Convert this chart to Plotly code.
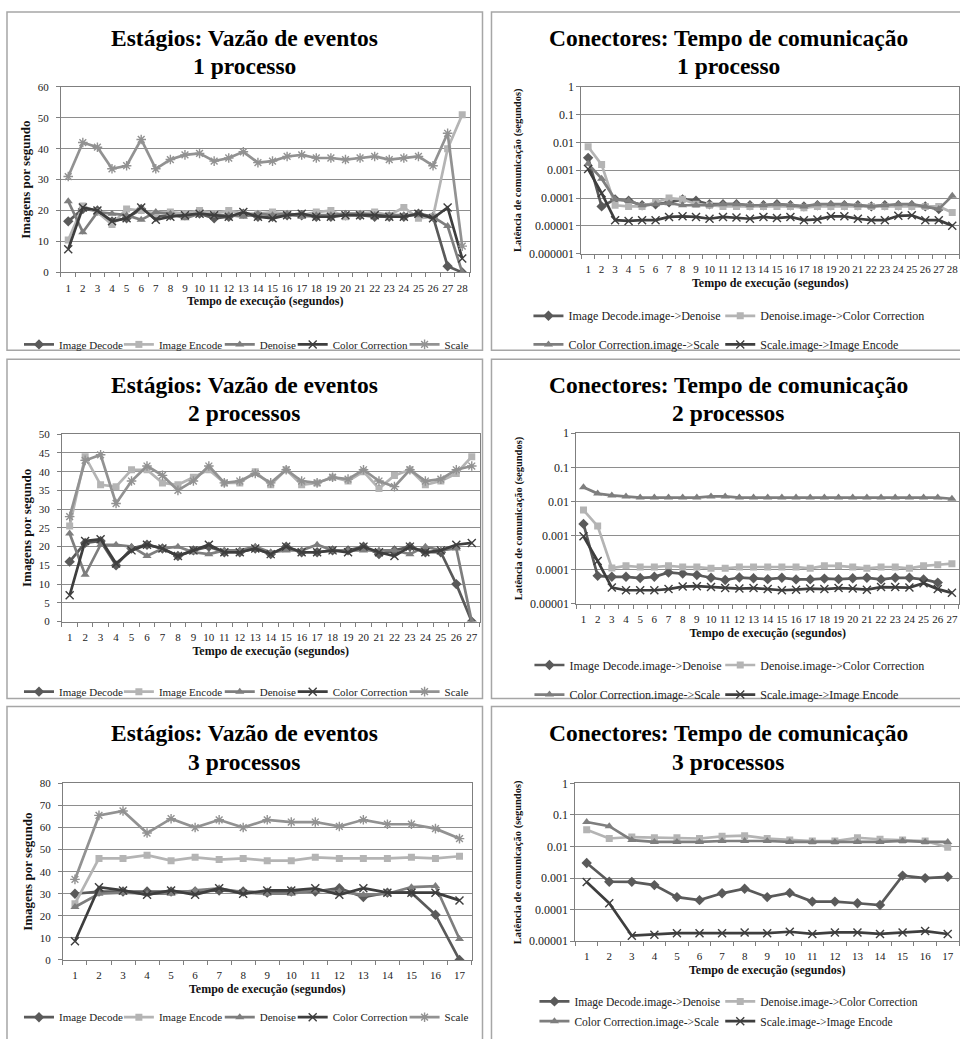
import plotly.graph_objects as go

W, H = 960, 1039
SERIF = "Liberation Serif"

# ---------------- data ----------------
stage_names = ["Image Decode", "Image Encode", "Denoise", "Color Correction", "Scale"]
conn_names = ["Image Decode.image->Denoise", "Denoise.image->Color Correction",
              "Color Correction.image->Scale", "Scale.image->Image Encode"]

x28 = list(range(1, 29))
x27 = list(range(1, 28))
x17 = list(range(1, 18))

# Stages, 1 processo
p1_decode = [16.5, 20.5, 20, 16.5, 17.5, 20.5, 18, 18.5, 18.5, 19, 17.5, 18, 19, 18, 18, 18.5, 18.5, 18, 18, 18.5,
             18.5, 18, 18, 18, 19, 18, 2, 0]
p1_encode = [10.5, 21.5, 19.5, 15.5, 20.5, 20, 19, 19.5, 19, 20, 19, 20, 19, 19, 19.5, 19, 18.5, 19.5, 20, 18,
             19, 19.5, 18.5, 21, 17.5, 18, 40, 51]
p1_denoise = [23, 13, 19.5, 19, 18.5, 17, 19.5, 19, 17.5, 19, 18.5, 18.5, 18, 19, 18.5, 19, 18, 18.5, 18.5, 19,
              19, 18.5, 18.5, 18.5, 18.5, 18, 15, 0]
p1_color = [7.5, 21, 20, 16.5, 17.5, 21, 17, 18, 18.5, 19, 18.5, 18, 19.5, 18, 17.5, 18.5, 19, 18, 18, 18.5,
            18.5, 18.5, 18, 18, 19, 17.5, 21, 4.5]
p1_scale = [31, 42, 40.5, 33.5, 34.5, 43, 33.5, 36.5, 38, 38.5, 36, 37, 39, 35.5, 36, 37.5, 38, 37, 37, 36.5,
            37, 37.5, 36.5, 37, 37.5, 34.5, 45, 8.5]

# Stages, 2 processos
p3_decode = [16, 21, 21.5, 15, 19.5, 20.5, 19.5, 17.5, 19, 20, 18.5, 18.5, 19.5, 18, 20, 18.5, 18.5, 19, 19, 20,
             18, 19, 20, 18.5, 18.5, 10, 0]
p3_encode = [25.5, 44, 36.5, 36, 40.5, 40.5, 37, 36.5, 38.5, 40.5, 37, 37, 40, 36.5, 40.5, 36.5, 37, 38.5, 37.5, 40,
             35.5, 39, 40.5, 36.5, 37.5, 39.5, 44]
p3_denoise = [23.5, 12.5, 20.5, 20.5, 20, 17.5, 19.5, 20, 18.5, 18, 19, 19, 20, 18.5, 19, 19, 20.5, 19, 19, 19,
              19, 19, 18, 20, 19, 19.5, 0]
p3_color = [7, 21.5, 22, 15.5, 19, 20.5, 19.5, 17.5, 19, 20.5, 18.5, 18.5, 19.5, 18, 20, 18.5, 18.5, 19, 18.5, 20,
            18.5, 17.5, 20, 18.5, 19, 20.5, 21]
p3_scale = [28, 43, 44.5, 31.5, 37.5, 41.5, 39, 35, 37.5, 41.5, 37, 37.5, 39.5, 37, 40.5, 37.5, 37, 38.5, 38, 40.5,
            37.5, 36, 40.5, 37.5, 38, 40.5, 41.5]

# Stages, 3 processos
p5_decode = [30, 31, 31, 31, 31, 31, 31.5, 31, 30.5, 31, 31, 32.5, 28.5, 30.5, 30.5, 20.5, 0]
p5_encode = [25.5, 46, 46, 47.5, 45, 46.5, 45.5, 46, 45, 45, 46.5, 46, 46, 46, 46.5, 46, 47]
p5_denoise = [24, 30, 30.5, 30, 30, 31.5, 32.5, 30.5, 30, 30, 31.5, 31, 29.5, 30, 33, 33.5, 9.5]
p5_color = [8.5, 33, 31.5, 29.5, 31.5, 29.5, 32.5, 30, 31.5, 31.5, 32.5, 29.5, 32.5, 30.5, 30.5, 30.5, 27]
p5_scale = [36.5, 65.5, 67.5, 57.5, 64, 60, 63.5, 60, 63.5, 62.5, 62.5, 60.5, 63.5, 61.5, 61.5, 59.5, 55]

# Connectors, 1 processo
p2_decode = [0.0028, 5e-5, 9e-5, 8e-5, 5.5e-5, 6e-5, 7e-5, 9e-5, 8e-5, 6e-5, 6e-5, 6e-5, 5.5e-5, 5.5e-5, 6e-5,
             5.5e-5, 5e-5, 5.5e-5, 5.5e-5, 5.5e-5, 5.5e-5, 5e-5, 5.5e-5, 5.5e-5, 5.5e-5, 5e-5, 4e-5, None]
p2_denoise = [0.007, 0.0016, 5.5e-5, 5e-5, 5e-5, 7e-5, 1e-4, 9e-5, 6e-5, 5.5e-5, 5e-5, 5e-5, 5e-5, 5e-5, 5e-5,
              5e-5, 4.5e-5, 5e-5, 5e-5, 5e-5, 5e-5, 5e-5, 5e-5, 5e-5, 5e-5, 5e-5, 5e-5, 3e-5]
p2_color = [0.0017, 0.0005, 9e-5, 8e-5, 5.5e-5, 6e-5, 6.5e-5, 5.5e-5, 5.5e-5, 5.5e-5, 6e-5, 6e-5, 5.5e-5, 5.5e-5,
            6e-5, 5.5e-5, 5e-5, 6e-5, 6e-5, 6e-5, 5.5e-5, 5e-5, 5.5e-5, 6e-5, 6e-5, 5e-5, 4e-5, 1.2e-4]
p2_scale = [0.0011, 0.00015, 1.6e-5, 1.5e-5, 1.6e-5, 1.6e-5, 2.1e-5, 2.2e-5, 2.1e-5, 1.8e-5, 2.1e-5, 2e-5, 1.8e-5,
            2.1e-5, 1.9e-5, 2.1e-5, 1.6e-5, 1.7e-5, 2.2e-5, 2.2e-5, 1.8e-5, 1.6e-5, 1.6e-5, 2.3e-5, 2.4e-5,
            1.6e-5, 1.6e-5, 1e-5]

# Connectors, 2 processos
p4_decode = [0.0022, 6.6e-5, 6.2e-5, 6.2e-5, 5.7e-5, 6.2e-5, 8.3e-5, 7.7e-5, 7e-5, 5.8e-5, 5e-5, 5.9e-5, 5.6e-5,
             5.3e-5, 5.8e-5, 5.2e-5, 5.2e-5, 5.5e-5, 5.3e-5, 5.6e-5, 5.8e-5, 5.2e-5, 5.8e-5, 5.8e-5, 5.2e-5,
             4.2e-5, None]
p4_denoise = [0.0056, 0.0019, 0.000112, 0.00013, 0.00012, 0.00012, 0.00013, 0.00012, 0.00012, 0.00011, 0.00011,
              0.00012, 0.00012, 0.00012, 0.00012, 0.00012, 0.00011, 0.00013, 0.00013, 0.00012, 0.00011, 0.00012,
              0.00012, 0.00011, 0.00013, 0.00014, 0.00015]
p4_color = [0.026, 0.017, 0.015, 0.014, 0.013, 0.013, 0.013, 0.013, 0.013, 0.014, 0.014, 0.013, 0.013, 0.013,
            0.013, 0.013, 0.013, 0.013, 0.013, 0.013, 0.013, 0.013, 0.013, 0.013, 0.013, 0.013, 0.012]
p4_scale = [0.00095, 0.00018, 3e-5, 2.5e-5, 2.5e-5, 2.5e-5, 2.7e-5, 3.2e-5, 3.3e-5, 3.1e-5, 2.9e-5, 2.8e-5, 2.9e-5,
            2.7e-5, 2.5e-5, 2.6e-5, 2.8e-5, 2.7e-5, 2.9e-5, 2.8e-5, 2.6e-5, 3.1e-5, 3.1e-5, 3e-5, 4e-5, 2.7e-5,
            2.1e-5]

# Connectors, 3 processos
p6_decode = [0.003, 0.00077, 0.00076, 0.0006, 0.00025, 0.0002, 0.00033, 0.00046, 0.00025, 0.00034, 0.00018,
             0.00018, 0.00016, 0.00014, 0.0012, 0.001, 0.0011]
p6_denoise = [0.034, 0.018, 0.02, 0.019, 0.019, 0.018, 0.021, 0.022, 0.018, 0.016, 0.015, 0.015, 0.019, 0.017,
              0.016, 0.015, 0.0095]
p6_color = [0.06, 0.044, 0.016, 0.014, 0.014, 0.014, 0.015, 0.015, 0.015, 0.014, 0.014, 0.014, 0.014, 0.014,
            0.015, 0.014, 0.014]
p6_scale = [0.00075, 0.00016, 1.5e-5, 1.6e-5, 1.8e-5, 1.8e-5, 1.8e-5, 1.9e-5, 1.8e-5, 2e-5, 1.7e-5, 1.9e-5,
            1.9e-5, 1.7e-5, 1.9e-5, 2.1e-5, 1.7e-5]

log_tickvals = [1, 0.1, 0.01, 0.001, 0.0001, 0.00001, 0.000001]
log_ticktext = ["1", "0.1", "0.01", "0.001", "0.0001", "0.00001", "0.000001"]

title_stage = "Estágios: Vazão de eventos"
title_conn = "Conectores: Tempo de comunicação"
subtitles = ["1 processo", "2 processos", "3 processos"]
x_title = "Tempo de execução (segundos)"
y_title_stage = "Imagens por segundo"
y_title_conn = "Latência de comunicação (segundos)"

# ---------------- styles ----------------
stage_styles = [
    dict(color="#5a5a5a", symbol="diamond", size=8),
    dict(color="#b4b4b4", symbol="square", size=7),
    dict(color="#7e7e7e", symbol="triangle-up", size=8),
    dict(color="#3e3e3e", symbol="x-thin-open", size=8),
    dict(color="#929292", symbol="asterisk-open", size=8),
]
conn_styles = [
    dict(color="#5a5a5a", symbol="diamond", size=8),
    dict(color="#b4b4b4", symbol="square", size=7),
    dict(color="#7e7e7e", symbol="triangle-up", size=8),
    dict(color="#3e3e3e", symbol="x-thin-open", size=8),
]


def fx(px):
    return min(max(px / W, 0.0), 1.0)


def fy(py):
    return min(max(1 - py / H, 0.0), 1.0)


def sx(px):  # unclamped, for shapes
    return px / W


def sy(py):
    return 1 - py / H


panels = [
    dict(kind="stage", xs=x28, series=[p1_decode, p1_encode, p1_denoise, p1_color, p1_scale],
         dx=(61, 470), dy=(81, 269), xr=[0.5, 28.5], yr=[0, 60], dtick=10, row=0, col=0),
    dict(kind="conn", xs=x28, series=[p2_decode, p2_denoise, p2_color, p2_scale],
         dx=(582, 960), dy=(81, 250), xr=[0.5, 28.5], yr=[-6, 0], row=0, col=1),
    dict(kind="stage", xs=x27, series=[p3_decode, p3_encode, p3_denoise, p3_color, p3_scale],
         dx=(62, 480), dy=(433, 623), xr=[0.5, 27.5], yr=[0, 50], dtick=5, row=1, col=0),
    dict(kind="conn", xs=x27, series=[p4_decode, p4_denoise, p4_color, p4_scale],
         dx=(577, 960), dy=(432, 605), xr=[0.5, 27.5], yr=[-5, 0], row=1, col=1),
    dict(kind="stage", xs=x17, series=[p5_decode, p5_encode, p5_denoise, p5_color, p5_scale],
         dx=(63, 472), dy=(787, 966), xr=[0.5, 17.5], yr=[0, 80], dtick=10, row=2, col=0),
    dict(kind="conn", xs=x17, series=[p6_decode, p6_denoise, p6_color, p6_scale],
         dx=(576, 960), dy=(787, 947), xr=[0.5, 17.5], yr=[-5, 0], row=2, col=1),
]

row_tops = [5, 357, 709]
row_bottoms = [348, 701, 1060]
col_lr = [(7, 483), (492, 970)]
title_y1 = [31, 383, 736]
title_y2 = [60, 412, 765]
title_cx = [245, 729]

# legend entries: left edge of each entry's text (pixels) and row centre lines
left_text_x = [[58, 158, 259, 332, 444]] * 3
left_legend_y = [342, 694, 1024]
left_font = [11, 11, 11]
right_text_x = [[568, 760, 568, 760], [569, 760, 569, 760], [574, 760, 574, 760]]
right_legend_y = [(313, 342), (667, 697), (1008, 1028)]
right_font = [12, 12, 11.5]

fig = go.Figure()
layout = dict()
legend_count = 0


def new_legend(text_left, yc, size):
    global legend_count
    legend_count += 1
    name = "legend" if legend_count == 1 else f"legend{legend_count}"
    layout[name] = dict(x=fx(text_left - 39), xanchor="left", y=fy(yc), yanchor="middle",
                        orientation="h", font=dict(family=SERIF, size=size, color="#222"),
                        bgcolor="rgba(0,0,0,0)", itemwidth=30, tracegroupgap=0)
    return name


for i, p in enumerate(panels):
    n = i + 1
    xa_name = "xaxis" if n == 1 else f"xaxis{n}"
    ya_name = "yaxis" if n == 1 else f"yaxis{n}"
    xref = "x" if n == 1 else f"x{n}"
    yref = "y" if n == 1 else f"y{n}"
    N = len(p["xs"])
    r = p["row"]

    if p["kind"] == "stage":
        names, styles = stage_names, stage_styles
        legend_of = [new_legend(left_text_x[r][k], left_legend_y[r], left_font[r]) for k in range(5)]
    else:
        names, styles = conn_names, conn_styles
        ya, yb = right_legend_y[r]
        rows_y = [ya, ya, yb, yb]
        legend_of = [new_legend(right_text_x[r][k], rows_y[k], right_font[r]) for k in range(4)]

    for k, (vals, name, st) in enumerate(zip(p["series"], names, styles)):
        open_sym = st["symbol"].endswith("open")
        marker = dict(symbol=st["symbol"], size=st["size"], color=st["color"])
        if open_sym:
            marker["line"] = dict(color=st["color"], width=1.4)
        else:
            marker["line"] = dict(width=0)
        fig.add_trace(go.Scatter(
            x=p["xs"], y=vals, name=name, mode="lines+markers",
            line=dict(color=st["color"], width=2.7),
            marker=marker, xaxis=xref, yaxis=yref, legend=legend_of[k],
            showlegend=True, connectgaps=False,
        ))

    layout[xa_name] = dict(
        domain=[fx(p["dx"][0]), fx(p["dx"][1])], anchor=yref, range=p["xr"],
        tickvals=p["xs"], ticktext=[str(v) for v in p["xs"]], tickangle=0,
        ticks="outside", ticklen=5, tickcolor="rgba(0,0,0,0)",
        showgrid=False, zeroline=False, showline=True, linecolor="#7f7f7f", linewidth=1,
        mirror=True,
        minor=dict(tickvals=[v + 0.5 for v in range(0, N + 1)], ticks="outside", ticklen=4,
                   tickcolor="#7f7f7f", tickwidth=1, showgrid=False),
        tickfont=dict(family=SERIF, size=11, color="#222"),
        title=dict(text=x_title, font=dict(family=SERIF, size=12, color="#111", weight="bold"),
                   standoff=4),
        fixedrange=True,
    )
    if p["kind"] == "stage":
        layout[ya_name] = dict(
            domain=[fy(p["dy"][1]), fy(p["dy"][0])], anchor=xref, range=p["yr"], dtick=p["dtick"],
            tick0=0, ticks="outside", ticklen=4, tickcolor="#7f7f7f",
            showgrid=True, gridcolor="#8e8e8e", gridwidth=1, zeroline=False,
            showline=True, linecolor="#7f7f7f", linewidth=1, mirror=True,
            tickfont=dict(family=SERIF, size=11, color="#222"), ticklabelstandoff=5,
            title=dict(text=y_title_stage, font=dict(family=SERIF, size=13, color="#111", weight="bold"),
                       standoff=4),
            fixedrange=True,
        )
    else:
        nt = -p["yr"][0] + 1
        layout[ya_name] = dict(
            domain=[fy(p["dy"][1]), fy(p["dy"][0])], anchor=xref, type="log", range=p["yr"],
            tickvals=log_tickvals[:nt], ticktext=log_ticktext[:nt],
            ticks="outside", ticklen=4, tickcolor="#7f7f7f",
            showgrid=True, gridcolor="#8e8e8e", gridwidth=1, zeroline=False,
            showline=True, linecolor="#7f7f7f", linewidth=1, mirror=True,
            tickfont=dict(family=SERIF, size=12, color="#222"),
            title=dict(text=y_title_conn, font=dict(family=SERIF, size=10.5, color="#111", weight="bold"),
                       standoff=5),
            fixedrange=True,
        )

# panel frames
shapes = []
for r in range(3):
    for c in range(2):
        x0, x1 = col_lr[c]
        shapes.append(dict(type="rect", xref="paper", yref="paper",
                           x0=sx(x0), x1=sx(x1), y0=sy(row_bottoms[r]), y1=sy(row_tops[r]),
                           line=dict(color="#a6a6a6", width=1.5), fillcolor="rgba(0,0,0,0)", layer="below"))

annotations = []
for r in range(3):
    for c in range(2):
        main = title_stage if c == 0 else title_conn
        annotations.append(dict(text=main, xref="paper", yref="paper", x=fx(title_cx[c]), y=fy(title_y1[r]),
                                xanchor="center", yanchor="middle", showarrow=False,
                                font=dict(family=SERIF, size=23.5, color="#000", weight="bold")))
        annotations.append(dict(text=subtitles[r], xref="paper", yref="paper", x=fx(title_cx[c]),
                                y=fy(title_y2[r]), xanchor="center", yanchor="middle", showarrow=False,
                                font=dict(family=SERIF, size=23.5, color="#000", weight="bold")))

fig.update_layout(
    width=W, height=H, autosize=False,
    margin=dict(l=0, r=0, t=0, b=0, pad=0),
    paper_bgcolor="white", plot_bgcolor="white",
    shapes=shapes, annotations=annotations,
    **layout,
)

# the page body gets no margin, so the 960x1039 figure fills the window exactly
fig.write_html("out.html", config={"displayModeBar": False},
               post_script="document.body.style.margin='0px'; document.body.style.overflow='hidden';")
